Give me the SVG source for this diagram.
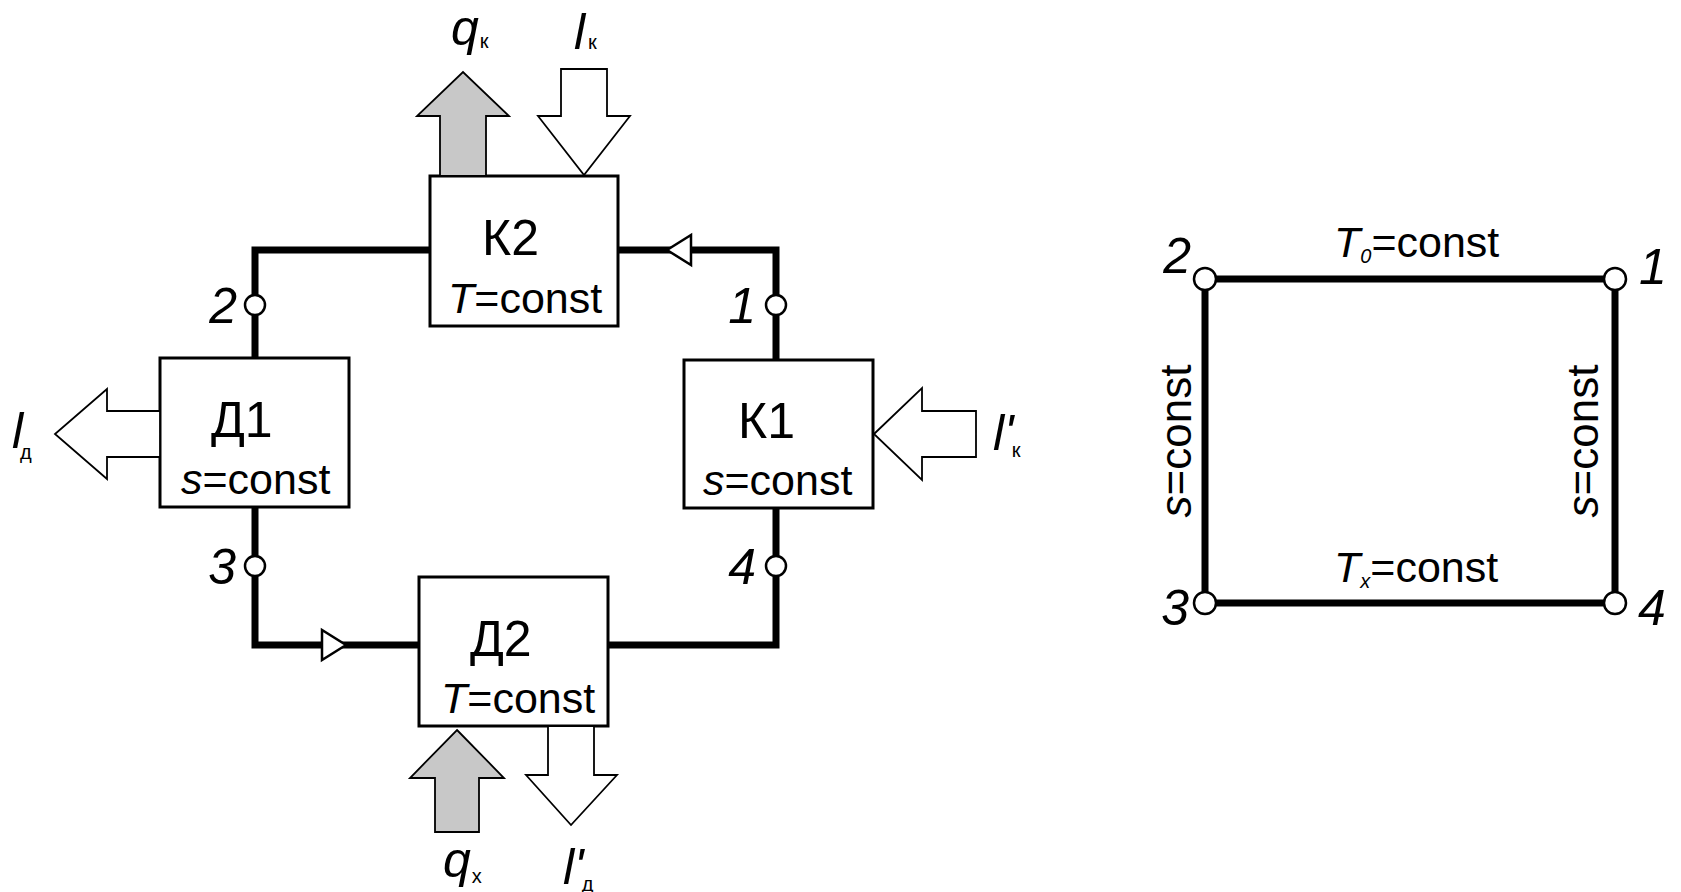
<svg xmlns="http://www.w3.org/2000/svg" width="1681" height="892" viewBox="0 0 1681 892">
<style>
text{font-family:"Liberation Sans",Arial,sans-serif;fill:#000}
.box{fill:#fff;stroke:#000;stroke-width:3}
.wire{fill:none;stroke:#000;stroke-width:7;stroke-linejoin:miter}
.pt{fill:#fff;stroke:#000;stroke-width:2.5}
.ba{stroke:#000;stroke-width:1.8;stroke-linejoin:miter}
.gray{fill:#c8c8c8}
.white{fill:#fff}
.tri{fill:#fff;stroke:#000;stroke-width:2.5}
.title{font-size:50px}
.cond{font-size:43px}
.rot{font-size:44px}
.it{font-style:italic}
.num{font-size:50px;font-style:italic}
.var{font-size:50px;font-style:italic}
.sub{font-size:20px;font-style:normal}
.sub0{font-size:20px;font-style:italic}
</style>
<defs>
<path id="triL" d="M0,0 L24,-15 L24,15 Z"/>
</defs>
<rect width="1681" height="892" fill="#fff"/>

<g id="connectors">
<path class="wire" d="M430,250 H255 V358"/>
<path class="wire" d="M255,507 V645 H418"/>
<path class="wire" d="M608,645 H776 V508"/>
<path class="wire" d="M776,360 V250 H618"/>
<use href="#triL" class="tri" transform="translate(667,250)"/>
<use href="#triL" class="tri" transform="translate(346,645) rotate(180)"/>
</g>

<g id="point-1"><circle class="pt" cx="776" cy="305" r="10"/><text class="num" x="756" y="323" text-anchor="end">1</text></g>
<g id="point-2"><circle class="pt" cx="255" cy="305" r="10"/><text class="num" x="237" y="323" text-anchor="end">2</text></g>
<g id="point-3"><circle class="pt" cx="255" cy="566" r="10"/><text class="num" x="236" y="584" text-anchor="end">3</text></g>
<g id="point-4"><circle class="pt" cx="776" cy="566" r="10"/><text class="num" x="756" y="584" text-anchor="end">4</text></g>

<g id="K2">
<rect class="box" x="430" y="176" width="188" height="150"/>
<text class="title" x="482" y="255">К2</text>
<text class="cond" x="448" y="313"><tspan class="it">T</tspan>=const</text>
</g>
<g id="D1">
<rect class="box" x="160" y="358" width="189" height="149"/>
<text class="title" x="211" y="437">Д1</text>
<text class="cond" x="181" y="494"><tspan class="it">s</tspan>=const</text>
</g>
<g id="K1">
<rect class="box" x="684" y="360" width="189" height="148"/>
<text class="title" x="738" y="438">К1</text>
<text class="cond" x="703" y="495"><tspan class="it">s</tspan>=const</text>
</g>
<g id="D2">
<rect class="box" x="419" y="577" width="189" height="149"/>
<text class="title" x="470" y="656">Д2</text>
<text class="cond" x="441" y="713"><tspan class="it">T</tspan>=const</text>
</g>

<g id="flow-qk">
<polygon class="ba gray" points="440,176 440,116 417,116 463,72 509,116 486,116 486,176"/>
<text class="var" x="451" y="45">q<tspan class="sub" dx="1" dy="3">к</tspan></text>
</g>
<g id="flow-lk">
<polygon class="ba white" points="561,69 607,69 607,116 630,116 584,175 538,116 561,116"/>
<text class="var" x="574" y="49">l<tspan class="sub" dx="3" dy="0">к</tspan></text>
</g>
<g id="flow-ld">
<polygon class="ba white" points="160,411 107,411 107,389 55,434 107,479 107,457 160,457"/>
<text class="var" x="12" y="448">l<tspan class="sub" dx="-3" dy="11">д</tspan></text>
</g>
<g id="flow-lk-prime">
<polygon class="ba white" points="874,434 922,388 922,411 976,411 976,457 922,457 922,480"/>
<text class="var" x="993" y="450">l'<tspan class="sub" dx="-2" dy="7">к</tspan></text>
</g>
<g id="flow-qx">
<polygon class="ba gray" points="457,730 504,778 479,778 479,832 435,832 435,778 410,778"/>
<text class="var" x="443" y="877">q<tspan class="sub" dx="1" dy="6">х</tspan></text>
</g>
<g id="flow-ld-prime">
<polygon class="ba white" points="548,726 548,775 526,775 571,825 617,775 594,775 594,726"/>
<text class="var" x="563" y="884">l'<tspan class="sub" dx="-2" dy="7">д</tspan></text>
</g>

<g id="cycle-diagram">
<path class="wire" d="M1205,279 H1615 V603 H1205 Z"/>
<text class="cond" x="1334" y="257"><tspan class="it">T</tspan><tspan class="sub0" dy="6">0</tspan><tspan dy="-6">=const</tspan></text>
<text class="cond" x="1334" y="582"><tspan class="it">T</tspan><tspan class="sub0" dy="6">x</tspan><tspan dy="-6">=const</tspan></text>
<text class="rot" text-anchor="middle" transform="translate(1191,441) rotate(-90)"><tspan class="it">s</tspan>=const</text>
<text class="rot" text-anchor="middle" transform="translate(1598,441) rotate(-90)"><tspan class="it">s</tspan>=const</text>
</g>
<g id="state-1"><circle class="pt" cx="1615" cy="279" r="11"/><text class="num" x="1639" y="284">1</text></g>
<g id="state-2"><circle class="pt" cx="1205" cy="279" r="11"/><text class="num" x="1191" y="273" text-anchor="end">2</text></g>
<g id="state-3"><circle class="pt" cx="1205" cy="603" r="11"/><text class="num" x="1189" y="625" text-anchor="end">3</text></g>
<g id="state-4"><circle class="pt" cx="1615" cy="603" r="11"/><text class="num" x="1638" y="625">4</text></g>
</svg>
